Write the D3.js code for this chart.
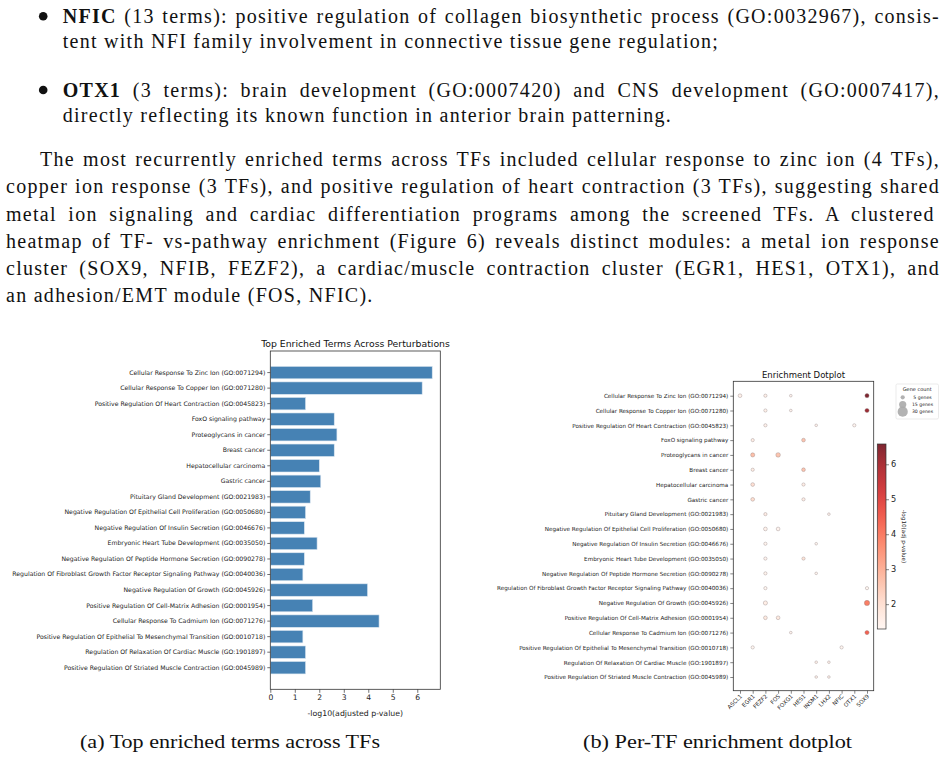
<!DOCTYPE html>
<html><head><meta charset="utf-8">
<script src="https://cdn.jsdelivr.net/npm/d3@7"></script>
<style>
html,body{margin:0;padding:0;background:#fff;}
svg{display:block;}
</style></head>
<body>
<svg id="page" width="947" height="777"></svg>
<script>
// ---------------- DATA ----------------
const terms = [
  "Cellular Response To Zinc Ion (GO:0071294)",
  "Cellular Response To Copper Ion (GO:0071280)",
  "Positive Regulation Of Heart Contraction (GO:0045823)",
  "FoxO signaling pathway",
  "Proteoglycans in cancer",
  "Breast cancer",
  "Hepatocellular carcinoma",
  "Gastric cancer",
  "Pituitary Gland Development (GO:0021983)",
  "Negative Regulation Of Epithelial Cell Proliferation (GO:0050680)",
  "Negative Regulation Of Insulin Secretion (GO:0046676)",
  "Embryonic Heart Tube Development (GO:0035050)",
  "Negative Regulation Of Peptide Hormone Secretion (GO:0090278)",
  "Regulation Of Fibroblast Growth Factor Receptor Signaling Pathway (GO:0040036)",
  "Negative Regulation Of Growth (GO:0045926)",
  "Positive Regulation Of Cell-Matrix Adhesion (GO:0001954)",
  "Cellular Response To Cadmium Ion (GO:0071276)",
  "Positive Regulation Of Epithelial To Mesenchymal Transition (GO:0010718)",
  "Regulation Of Relaxation Of Cardiac Muscle (GO:1901897)",
  "Positive Regulation Of Striated Muscle Contraction (GO:0045989)"
];
const topScores = [6.61, 6.20, 1.44, 2.61, 2.72, 2.61, 2.00, 2.06, 1.63, 1.44,
                   1.39, 1.91, 1.39, 1.33, 3.97, 1.73, 4.44, 1.33, 1.44, 1.44];
const barTicks = [0, 1, 2, 3, 4, 5, 6];

const tfs = ["ASCL1","EGR1","FEZF2","FOS","FOXG1","HES1","INSM1","LHX2","NFIC","OTX1","SOX9"];
// dot plot: one entry per (term index, TF)
const dotTerm  = [0,0,0,0, 1,1,1, 2,2,2, 3,3, 4,4, 5,5, 6,6, 7,7, 8,8, 9,9, 10,10, 11,11, 12,12, 13,13, 14,14, 15,15, 16,16, 17,17, 18,18, 19,19];
const dotTF    = ["ASCL1","FEZF2","FOXG1","SOX9", "FEZF2","FOXG1","SOX9", "FEZF2","INSM1","OTX1",
                  "EGR1","HES1", "EGR1","FOS", "EGR1","HES1", "EGR1","HES1", "EGR1","HES1",
                  "FEZF2","LHX2", "FEZF2","FOS", "FEZF2","INSM1", "FEZF2","HES1", "FEZF2","INSM1",
                  "FEZF2","SOX9", "FEZF2","SOX9", "FEZF2","FOS", "FOXG1","SOX9", "EGR1","NFIC",
                  "INSM1","LHX2", "INSM1","LHX2"];
const dotGenes = [4,3,2,5, 3,2,5, 3,2,3, 3,4, 5,6, 3,4, 4,3, 4,3, 3,2, 4,4, 3,2, 3,3, 3,2, 3,3, 5,8, 4,4, 2,5, 3,3, 2,2, 2,2];
const dotScore = [1.50,1.50,1.40,6.58, 1.50,1.40,6.20, 1.44,1.40,1.35, 1.60,2.61, 2.72,2.60, 1.60,2.61,
                  2.00,1.60, 2.06,1.60, 1.63,1.40, 1.44,1.40, 1.39,1.35, 1.40,1.91, 1.39,1.35,
                  1.33,1.33, 1.60,3.97, 1.73,1.73, 1.40,4.44, 1.33,1.33, 1.44,1.44, 1.44,1.44];
const legendGenes = [5, 15, 30];
const cbarTicks = [2, 3, 4, 5, 6];
const cbarDomain = [1.29, 6.58];

// page text
const bullet1 = [["NFIC", " (13 terms): positive regulation of collagen biosynthetic process (GO:0032967), consis-"],
                 [null, "tent with NFI family involvement in connective tissue gene regulation;"]];
const bullet2 = [["OTX1", " (3 terms): brain development (GO:0007420) and CNS development (GO:0007417),"],
                 [null, "directly reflecting its known function in anterior brain patterning."]];
const paraLines = [
  "The most recurrently enriched terms across TFs included cellular response to zinc ion (4 TFs),",
  "copper ion response (3 TFs), and positive regulation of heart contraction (3 TFs), suggesting shared",
  "metal ion signaling and cardiac differentiation programs among the screened TFs.  A clustered",
  "heatmap of TF- vs-pathway enrichment (Figure 6) reveals distinct modules: a metal ion response",
  "cluster (SOX9, NFIB, FEZF2), a cardiac/muscle contraction cluster (EGR1, HES1, OTX1), and",
  "an adhesion/EMT module (FOS, NFIC)."
];
const captions = ["(a) Top enriched terms across TFs", "(b) Per-TF enrichment dotplot"];

// ---------------- HELPERS ----------------
const svg = d3.select("#page");
const SERIF = "'Liberation Serif', 'DejaVu Serif', serif";
const SANS = "'DejaVu Sans', sans-serif";

function fitFont(sel, target) {
  const n = sel.node(); const fs = parseFloat(sel.attr("font-size"));
  const w = n.getComputedTextLength(); return fs * target / w;
}
function justify(t, width) {
  const n = t.node(); const w = n.getComputedTextLength();
  const txt = n.textContent; const spaces = (txt.match(/ /g) || []).length;
  if (spaces > 0) t.attr("word-spacing", (width - w) / spaces);
}

// ---------------- PAGE TEXT ----------------
const TS = 20;
// letter spacing calibrated on the unjustified (natural-width) last lines of the page
let LS = 0;
{
  const cal = [[bullet1[1][1], 688 - 62.7], [bullet2[1][1], 683 - 62.7], [paraLines[5], 394 - 6]];
  let dw = 0, nc = 0;
  cal.forEach(([s, target]) => {
    const p = svg.append("text").attr("font-family", SERIF).attr("font-size", TS).text(s);
    dw += target - p.node().getComputedTextLength(); nc += s.length; p.remove();
  });
  LS = dw / nc;
}
function textLine(x, y, boldPart, rest, width) {
  const t = svg.append("text").attr("x", x).attr("y", y)
    .attr("font-family", SERIF).attr("font-size", TS).attr("fill", "#111").attr("letter-spacing", LS);
  if (boldPart) t.append("tspan").attr("font-weight", "bold").text(boldPart);
  t.append("tspan").text(rest);
  if (width) justify(t, width);
  return t;
}
[16.3, 90].forEach(cy => svg.append("circle").attr("cx", 43.2).attr("cy", cy).attr("r", 4.3).attr("fill", "#111"));
textLine(62.7, 23, bullet1[0][0], bullet1[0][1], 940 - 62.7);
textLine(62.7, 47.5, null, bullet1[1][1], null);
textLine(62.7, 96.7, bullet2[0][0], bullet2[0][1], 940 - 62.7);
textLine(62.7, 121.5, null, bullet2[1][1], null);
const paraY = [166, 193.3, 220.7, 248.2, 275.2, 302.4];
paraLines.forEach((l, i) => textLine(i === 0 ? 40 : 6, paraY[i], null, l, i < 5 ? 940 - (i === 0 ? 40 : 6) : null));

// captions
[[80, 380], [583, 852]].forEach((r, i) => {
  svg.append("text").attr("x", r[0]).attr("y", 748).attr("font-family", SERIF).attr("font-size", 19)
    .attr("fill", "#111").attr("textLength", r[1] - r[0]).attr("lengthAdjust", "spacingAndGlyphs")
    .text(captions[i]);
});

// ---------------- CHART A: bar chart ----------------
{
  const L = 270.3, R = 440.3, T = 351, B = 689.3;
  const x = d3.scaleLinear().domain([0, 6.94]).range([L, R]);
  const y = d3.scaleBand().domain(terms).range([T, B]).paddingInner(0.2).paddingOuter(0.99);
  const g = svg.append("g");
  g.selectAll("rect.bar").data(terms).join("rect").attr("class", "bar")
    .attr("x", x(0)).attr("y", d => y(d))
    .attr("width", (d, i) => x(topScores[i]) - x(0)).attr("height", y.bandwidth())
    .attr("fill", "#4682b4").attr("stroke", "#dbe6f0").attr("stroke-width", 0.6);
  const ya = d3.axisLeft(y).tickSize(3).tickPadding(2);
  const yg = g.append("g").attr("transform", `translate(${L},0)`).call(ya);
  yg.select(".domain").remove();
  yg.selectAll("line").attr("stroke", "#333").attr("stroke-width", 0.7);
  yg.selectAll("text").attr("font-family", SANS).attr("fill", "#222");
  const probe = yg.selectAll("text").filter(d => d === terms[0]).attr("font-size", 10);
  const fsY = fitFont(probe, 136.3);
  yg.selectAll("text").attr("font-size", fsY);
  const xa = d3.axisBottom(x).tickValues(barTicks).tickFormat(d3.format("d")).tickSize(3.5).tickPadding(2);
  const xg = g.append("g").attr("transform", `translate(0,${B})`).call(xa);
  xg.select(".domain").remove();
  xg.selectAll("line").attr("stroke", "#333").attr("stroke-width", 0.7);
  xg.selectAll("text").attr("font-family", SANS).attr("font-size", 7.6).attr("fill", "#222");
  g.append("rect").attr("x", L).attr("y", T).attr("width", R - L).attr("height", B - T)
    .attr("fill", "none").attr("stroke", "#333").attr("stroke-width", 0.8);
  const xl = g.append("text").attr("x", (L + R) / 2).attr("y", 715.5).attr("text-anchor", "middle")
    .attr("font-family", SANS).attr("font-size", 10).attr("fill", "#222").text("-log10(adjusted p-value)");
  xl.attr("font-size", fitFont(xl, 95.7));
  const tt = g.append("text").attr("x", 355.5).attr("y", 346.5).attr("text-anchor", "middle")
    .attr("font-family", SANS).attr("font-size", 10).attr("fill", "#111").text("Top Enriched Terms Across Perturbations");
  tt.attr("font-size", fitFont(tt, 189));
}

// ---------------- CHART B: dot plot ----------------
{
  const L = 733.3, R = 873.7, T = 381.3, B = 690.7;
  const x = d3.scalePoint().domain(tfs).range([740, 867]);
  const y = d3.scalePoint().domain(terms).range([395.7, 677]);
  const color = d3.scaleSequential(d3.interpolateReds).domain(cbarDomain);
  const rad = d3.scaleSqrt().domain([0, 30]).range([0, 5.1]);
  const g = svg.append("g");
  const ya = d3.axisLeft(y).tickSize(3).tickPadding(2);
  const yg = g.append("g").attr("transform", `translate(${L},0)`).call(ya);
  yg.select(".domain").remove();
  yg.selectAll("line").attr("stroke", "#333").attr("stroke-width", 0.6);
  yg.selectAll("text").attr("font-family", SANS).attr("fill", "#222");
  const probe = yg.selectAll("text").filter(d => d === terms[0]).attr("font-size", 10);
  const fsY = fitFont(probe, 124.7);
  yg.selectAll("text").attr("font-size", fsY);
  const xa = d3.axisBottom(x).tickSize(3).tickPadding(2);
  const xg = g.append("g").attr("transform", `translate(0,${B})`).call(xa);
  xg.select(".domain").remove();
  xg.selectAll("line").attr("stroke", "#333").attr("stroke-width", 0.6);
  xg.selectAll("text").attr("font-family", SANS).attr("font-size", fsY).attr("fill", "#222")
    .attr("text-anchor", "end").attr("dy", null).attr("y", 0)
    .attr("transform", "translate(2,6) rotate(-45)");
  const dots = dotTerm.map((t, i) => ({term: terms[t], tf: dotTF[i], n: dotGenes[i], s: dotScore[i]}));
  g.selectAll("circle.dot").data(dots).join("circle").attr("class", "dot")
    .attr("cx", d => x(d.tf)).attr("cy", d => y(d.term)).attr("r", d => rad(d.n))
    .attr("fill", d => color(d.s)).attr("fill-opacity", 0.85)
    .attr("stroke", "#8a7b7b").attr("stroke-width", 0.45).attr("stroke-opacity", 0.8);
  g.append("rect").attr("x", L).attr("y", T).attr("width", R - L).attr("height", B - T)
    .attr("fill", "none").attr("stroke", "#333").attr("stroke-width", 0.8);
  const tt = g.append("text").attr("x", (L + R) / 2).attr("y", 377.7).attr("text-anchor", "middle")
    .attr("font-family", SANS).attr("font-size", 10).attr("fill", "#111").text("Enrichment Dotplot");
  tt.attr("font-size", fitFont(tt, 83));

  // colorbar
  const cL = 877.3, cR = 886, cT = 444, cB = 629;
  const cy = d3.scaleLinear().domain(cbarDomain).range([cB, cT]);
  const grad = svg.append("defs").append("linearGradient").attr("id", "cbar")
    .attr("x1", 0).attr("y1", 1).attr("x2", 0).attr("y2", 0);
  d3.range(0, 1.0001, 0.05).forEach(f => grad.append("stop").attr("offset", f)
    .attr("stop-color", color(cbarDomain[0] + f * (cbarDomain[1] - cbarDomain[0]))).attr("stop-opacity", 0.85));
  g.append("rect").attr("x", cL).attr("y", cT).attr("width", cR - cL).attr("height", cB - cT)
    .attr("fill", "url(#cbar)").attr("stroke", "#333").attr("stroke-width", 0.7);
  const ca = d3.axisRight(cy).tickValues(cbarTicks).tickFormat(d3.format("d")).tickSize(3).tickPadding(2);
  const cg = g.append("g").attr("transform", `translate(${cR},0)`).call(ca);
  cg.select(".domain").remove();
  cg.selectAll("line").attr("stroke", "#333").attr("stroke-width", 0.6);
  cg.selectAll("text").attr("font-family", SANS).attr("font-size", 8.2).attr("fill", "#222");
  g.append("text").attr("transform", `translate(902,${(cT + cB) / 2}) rotate(90)`).attr("text-anchor", "middle")
    .attr("font-family", SANS).attr("font-size", fsY).attr("fill", "#222").text("-log10(adj p-value)");

  // size legend
  const lg = g.append("g");
  lg.append("rect").attr("x", 896).attr("y", 384).attr("width", 42.5).attr("height", 35).attr("rx", 1.5)
    .attr("fill", "#fff").attr("stroke", "#ddd").attr("stroke-width", 0.6);
  lg.append("text").attr("x", 917.2).attr("y", 391.3).attr("text-anchor", "middle")
    .attr("font-family", SANS).attr("font-size", 5).attr("fill", "#222").text("Gene count");
  const ly = d3.scalePoint().domain(legendGenes).range([397.3, 411.7]);
  lg.selectAll("circle").data(legendGenes).join("circle")
    .attr("cx", 902.7).attr("cy", d => ly(d)).attr("r", d => rad(d)).attr("fill", "#aaa").attr("fill-opacity", 0.9);
  lg.selectAll("text.lab").data(legendGenes).join("text").attr("class", "lab")
    .attr("x", 922.5).attr("y", d => ly(d) + 1.6).attr("text-anchor", "middle")
    .attr("font-family", SANS).attr("font-size", 4.6).attr("fill", "#222").text(d => d + " genes");
}
</script>
</body></html>
